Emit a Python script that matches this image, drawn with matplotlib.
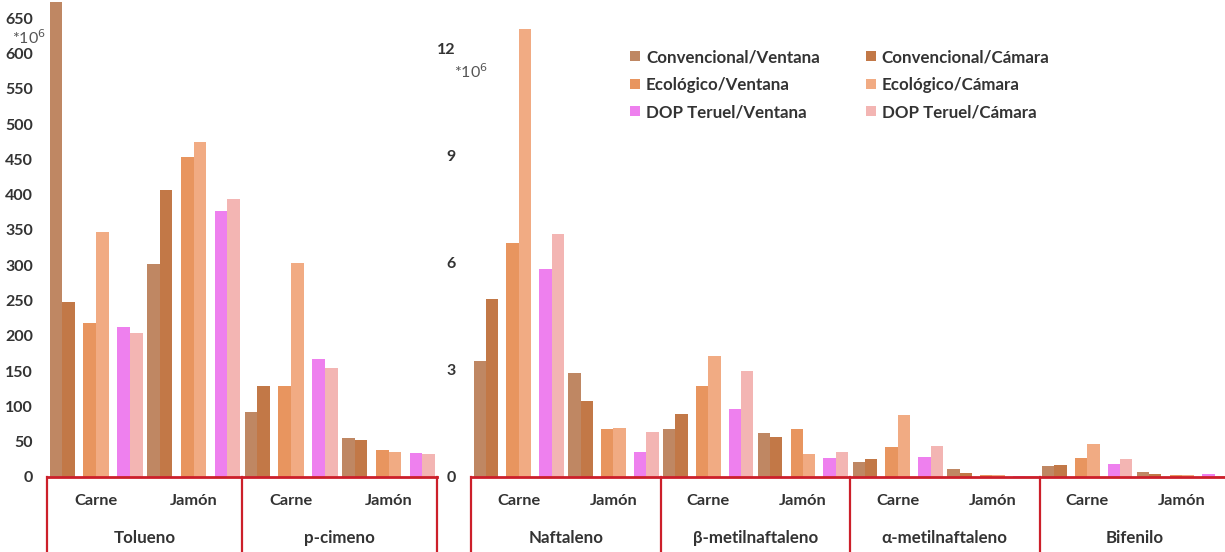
import matplotlib
matplotlib.use("Agg")
import matplotlib.pyplot as plt
from matplotlib.lines import Line2D

plt.rcParams['font.family'] = ['Lato', 'DejaVu Sans']

# ---- data -------------------------------------------------------------
products = ["Carne", "Jamón"]

left_compounds = ["Tolueno", "p-cimeno"]
right_compounds = ["Naftaleno", "β-metilnaftaleno", "α-metilnaftaleno", "Bifenilo"]

series_names = ["Convencional/Ventana", "Convencional/Cámara",
                "Ecológico/Ventana", "Ecológico/Cámara",
                "DOP Teruel/Ventana", "DOP Teruel/Cámara"]

# values per series, ordered compound by compound, Carne then Jamón
left_conv_ventana = [673, 301, 92, 55]
left_conv_camara = [248, 406, 129, 52]
left_eco_ventana = [218, 453, 129, 38]
left_eco_camara = [347, 475, 303, 35]
left_dop_ventana = [212, 377, 167, 34]
left_dop_camara = [204, 394, 154, 33]

right_conv_ventana = [3.24, 2.92, 1.35, 1.22, 0.41, 0.21, 0.30, 0.13]
right_conv_camara = [4.97, 2.12, 1.75, 1.11, 0.49, 0.10, 0.34, 0.07]
right_eco_ventana = [6.54, 1.35, 2.56, 1.33, 0.83, 0.05, 0.54, 0.05]
right_eco_camara = [12.53, 1.36, 3.40, 0.65, 1.73, 0.05, 0.91, 0.05]
right_dop_ventana = [5.81, 0.69, 1.91, 0.52, 0.55, 0.04, 0.36, 0.09]
right_dop_camara = [6.80, 1.25, 2.96, 0.69, 0.88, 0.03, 0.49, 0.04]

left_yticks = list(range(0, 651, 50))
right_yticks = [0, 3, 6, 9, 12]

# ---- style ------------------------------------------------------------
colors = ["#BF8763", "#C27847", "#E8955F", "#F1AB83", "#EE80EE", "#F3B5B3"]
text_color = "#333333"
box_color = "#CC1F2A"

COMP_W = 6.0                 # width of one compound block in x units
GROUP_CENTERS = [1.51, 4.51]  # Carne / Jamón inside a compound
PAIR_STEP = 1.04             # Convencional / Ecológico / DOP pairs
BAR_W = 0.39

fig = plt.figure(figsize=(12.25, 5.52), dpi=100)
W, H = 1225, 552
base_px = 477


def make_axes(x0_px, width_px):
    return fig.add_axes([x0_px / W, (H - base_px) / H, width_px / W, base_px / H])


def draw_panel(ax, compounds, series, ymax, yticks, tick_pad):
    ventana = [series[0], series[2], series[4]]
    camara = [series[1], series[3], series[5]]
    for ci, comp in enumerate(compounds):
        for pi, prod in enumerate(products):
            k = ci * 2 + pi
            gc = ci * COMP_W + GROUP_CENTERS[pi]
            for j in range(3):
                pc = gc + (j - 1) * PAIR_STEP
                ax.bar(pc - BAR_W / 2, ventana[j][k], width=BAR_W,
                       color=colors[2 * j], linewidth=0)
                ax.bar(pc + BAR_W / 2, camara[j][k], width=BAR_W,
                       color=colors[2 * j + 1], linewidth=0)
            ax.annotate(prod, (gc, 0), xycoords=('data', 'data'),
                        xytext=(0, -24), textcoords='offset pixels',
                        ha='center', va='center', fontsize=11.8,
                        fontweight='bold', color=text_color,
                        annotation_clip=False)
        ax.annotate(comp, ((ci + 0.5) * COMP_W, 0),
                    xytext=(0, -61), textcoords='offset pixels',
                    ha='center', va='center', fontsize=12.2,
                    fontweight='bold', color=text_color,
                    annotation_clip=False)
    n = len(compounds)
    ax.set_xlim(0, n * COMP_W)
    ax.set_ylim(0, ymax)
    ax.set_yticks(yticks)
    ax.set_yticklabels([str(t) for t in yticks], fontsize=11.5,
                       fontweight='bold', color=text_color)
    ax.tick_params(axis='y', length=0, pad=tick_pad)
    ax.set_xticks([])
    for s in ax.spines.values():
        s.set_visible(False)
    # category box below the baseline
    tr = ax.get_xaxis_transform()
    ax.add_line(Line2D([0, n * COMP_W], [0, 0], transform=tr,
                       color=box_color, lw=2, clip_on=False, zorder=5))
    for b in range(n + 1):
        ax.add_line(Line2D([b * COMP_W, b * COMP_W], [0, -0.3], transform=tr,
                           color=box_color, lw=1.6, clip_on=False, zorder=5))


axL = make_axes(47, 390)
draw_panel(axL, left_compounds,
           [left_conv_ventana, left_conv_camara, left_eco_ventana,
            left_eco_camara, left_dop_ventana, left_dop_camara],
           base_px / 0.706, left_yticks, 10)
axL.text(-0.09, 0.922, "*10$^6$", transform=axL.transAxes, fontsize=11.5,
         color="#555555", ha='left', va='center')

axR = make_axes(471, 758)
draw_panel(axR, right_compounds,
           [right_conv_ventana, right_conv_camara, right_eco_ventana,
            right_eco_camara, right_dop_ventana, right_dop_camara],
           base_px / 35.72, right_yticks, 11)
axR.text(-0.023, 0.85, "*10$^6$", transform=axR.transAxes, fontsize=11.5,
         color="#555555", ha='left', va='center')

# legend: two columns, Ventana on the left, Cámara on the right
order = [0, 2, 4, 1, 3, 5]
handles = [Line2D([], [], marker='s', linestyle='none', markersize=7.5,
                  markerfacecolor=colors[i], markeredgewidth=0) for i in order]
labels = [series_names[i] for i in order]
leg = fig.legend(handles, labels, ncol=2, loc='upper left',
                 bbox_to_anchor=(629 / W, 1 - 49 / H), frameon=False,
                 prop={'weight': 'bold', 'size': 12.2},
                 handlelength=0.7, handletextpad=0.3, columnspacing=2.65,
                 labelspacing=0.68, borderpad=0, borderaxespad=0)
for t in leg.get_texts():
    t.set_color(text_color)

fig.savefig("out.png", dpi=100, facecolor='white')
